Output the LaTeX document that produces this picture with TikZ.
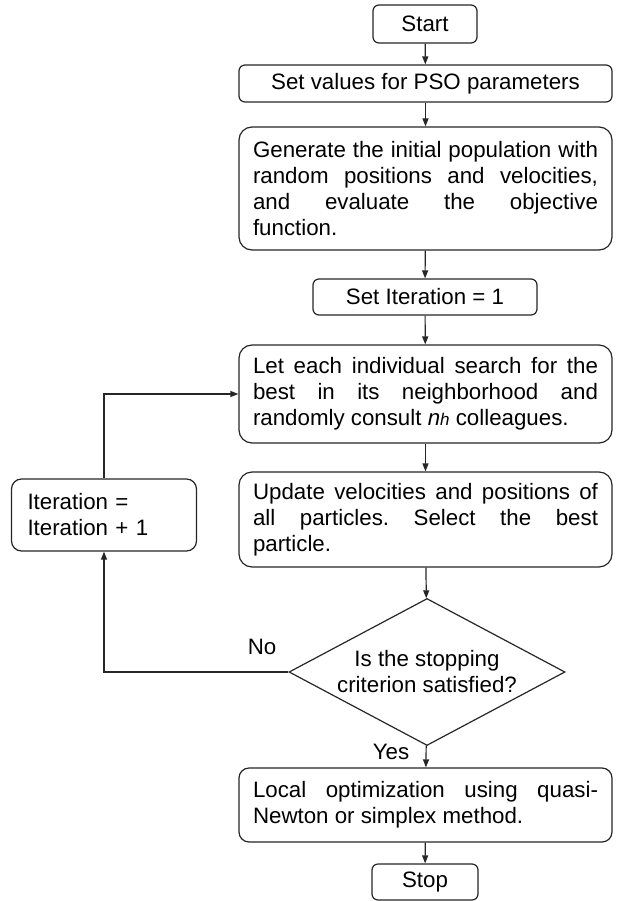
\documentclass[tikz,border=0pt]{standalone}
\usepackage{fontspec}
\setmainfont{Liberation Sans}
\usetikzlibrary{arrows.meta,shapes.geometric}
\frenchspacing

\begin{document}
\begin{tikzpicture}[x=1pt,y=-1pt,
  every node/.style={font=\fontsize{22.3}{26}\selectfont,text=black},
  box/.style={draw=black!85,line width=1.2pt,rounded corners=6pt,
              minimum height=36pt,inner sep=0pt,fill=white},
  bigbox/.style={box,rounded corners=13pt,text width=345pt,inner xsep=14pt,
                 align=justify},
  decision/.style={draw=black!85,line width=1.2pt,diamond,
                   minimum width=276pt,minimum height=147pt,inner sep=0pt},
  arr/.style={draw=black!85,line width=1.2pt,-{Triangle[length=8pt,width=6pt]}},
]
\useasboundingbox (0,0) rectangle (616,901);

% main column
\node[box,minimum width=104pt,minimum height=38pt] (start) at (425,24) {Start};
\node[box,minimum width=373pt,minimum height=37pt] (setval) at (425.5,83.5)
  {Set values for PSO parameters};
\node[bigbox,minimum height=123pt] (init) at (425.5,188.5)
  {Generate the initial population with\linebreak
   random positions and velocities,\linebreak
   and evaluate the objective\linebreak function.};
\node[box,minimum width=224pt] (setit) at (425,297) {Set Iteration = 1};
\node[bigbox,minimum height=98pt] (search) at (425.5,394)
  {Let each individual search for the\linebreak
   best in its neighborhood and\linebreak
   randomly consult {\itshape n{\fontsize{17}{20}\selectfont h}} colleagues.};
\node[bigbox,minimum height=95pt] (update) at (425.5,519.5)
  {Update velocities and positions of\linebreak
   all particles. Select the best\linebreak particle.};
\node[decision] (check) at (427,672) {};
\node[align=center] (checktxt) at (427,672) {Is the stopping\\criterion satisfied?};
\node[bigbox,rounded corners=10pt,minimum height=74pt] (local) at (425.5,805)
  {Local optimization using quasi-\linebreak Newton or simplex method.};
\node[box,minimum width=106pt] (stop) at (425,882) {Stop};

% loop box
\node[box,rounded corners=10pt,minimum height=72pt,text width=153pt,
      inner xsep=16pt,align=left] (iter) at (104,515)
  {Iteration =\\Iteration + 1};

% arrows
\draw[arr] (start) -- (setval);
\draw[arr] (setval) -- (init);
\draw[arr] (init) -- (setit);
\draw[arr] (setit) -- (search);
\draw[arr] (search) -- (update);
\draw[arr] (update) -- (check);
\draw[arr] (check) -- (local);
\draw[arr] (local) -- (stop);
\draw[arr] (check.west) -| (iter.south);
\draw[arr] (iter.north) |- (search.west);

\node (no) at (262,647) {No};
\node (yes) at (391,752) {Yes};
\end{tikzpicture}
\end{document}
